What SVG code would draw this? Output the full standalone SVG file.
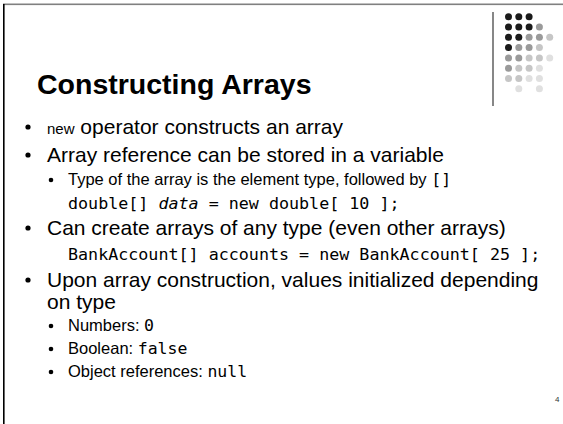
<svg xmlns="http://www.w3.org/2000/svg" width="563" height="424" viewBox="0 0 563 424">
  <style>
    .title { font-family: "Liberation Sans", Arial, sans-serif; font-weight: bold; font-size: 28.5px; fill: #000; }
    .l1 { font-family: "Liberation Sans", Arial, sans-serif; font-size: 21px; fill: #000; }
    .l2 { font-family: "Liberation Sans", Arial, sans-serif; font-size: 16.5px; fill: #000; }
    .code { font-family: "DejaVu Sans Mono", "Liberation Mono", monospace; font-size: 16.7px; fill: #000; }
    .kw { font-family: "Liberation Sans", Arial, sans-serif; font-size: 15px; }
    .mono { font-family: "DejaVu Sans Mono", "Liberation Mono", monospace; }
    .num { font-family: "Liberation Sans", Arial, sans-serif; font-size: 8px; fill: #333; }
    .d0 { fill: #1a1a1a; }
    .d1 { fill: #9a9a9a; }
    .d2 { fill: #c6c6c6; }
    .d3 { fill: #e0e0e0; }
  </style>
  <defs>
    <circle id="dot" r="3.5"/>
    <circle id="b1" r="2.6" fill="#000"/>
    <circle id="b2" r="2.3" fill="#000"/>
  </defs>

  <!-- slide frame -->
  <g id="frame">
    <rect x="3" y="3.5" width="560" height="1.6" fill="#808080"/>
    <rect x="3" y="4" width="1.6" height="420" fill="#000"/>
  </g>

  <!-- decorative dot grid with divider -->
  <g id="ornament">
    <rect x="492.3" y="12" width="1.4" height="94" fill="#555"/>
    <g transform="translate(508.5,16.7)">
      <use href="#dot" class="d0" x="0" y="0"/><use href="#dot" class="d0" x="10.3" y="0"/><use href="#dot" class="d0" x="20.6" y="0"/>
      <use href="#dot" class="d0" x="0" y="10.3"/><use href="#dot" class="d0" x="10.3" y="10.3"/><use href="#dot" class="d0" x="20.6" y="10.3"/><use href="#dot" class="d1" x="30.9" y="10.3"/>
      <use href="#dot" class="d0" x="0" y="20.6"/><use href="#dot" class="d0" x="10.3" y="20.6"/><use href="#dot" class="d1" x="20.6" y="20.6"/><use href="#dot" class="d1" x="30.9" y="20.6"/><use href="#dot" class="d2" x="41.2" y="20.6"/>
      <use href="#dot" class="d0" x="0" y="30.9"/><use href="#dot" class="d1" x="10.3" y="30.9"/><use href="#dot" class="d1" x="20.6" y="30.9"/><use href="#dot" class="d2" x="30.9" y="30.9"/>
      <use href="#dot" class="d1" x="0" y="41.2"/><use href="#dot" class="d1" x="10.3" y="41.2"/><use href="#dot" class="d2" x="20.6" y="41.2"/><use href="#dot" class="d2" x="30.9" y="41.2"/><use href="#dot" class="d3" x="41.2" y="41.2"/>
      <use href="#dot" class="d1" x="0" y="51.5"/><use href="#dot" class="d2" x="10.3" y="51.5"/><use href="#dot" class="d2" x="20.6" y="51.5"/><use href="#dot" class="d3" x="30.9" y="51.5"/>
      <use href="#dot" class="d2" x="0" y="61.8"/><use href="#dot" class="d2" x="10.3" y="61.8"/><use href="#dot" class="d3" x="20.6" y="61.8"/><use href="#dot" class="d3" x="30.9" y="61.8"/>
      <use href="#dot" class="d3" x="10.3" y="72.1"/><use href="#dot" class="d3" x="30.9" y="72.1"/>
    </g>
  </g>

  <g id="title">
    <text class="title" x="37" y="94">Constructing Arrays</text>
  </g>

  <g id="body">
    <use href="#b1" x="28" y="127"/>
    <text class="l1" x="47" y="134"><tspan class="kw">new</tspan> operator constructs an array</text>

    <use href="#b1" x="28" y="155"/>
    <text class="l1" x="47" y="162">Array reference can be stored in a variable</text>

    <use href="#b2" x="51" y="180"/>
    <text class="l2" x="68" y="185">Type of the array is the element type, followed by <tspan class="mono">[]</tspan></text>

    <text class="code" x="68" y="209">double[] <tspan font-style="italic">data</tspan> = new double[ 10 ];</text>

    <use href="#b1" x="28" y="228"/>
    <text class="l1" x="47" y="235">Can create arrays of any type (even other arrays)</text>

    <text class="code" x="68" y="260">BankAccount[] accounts = new BankAccount[ 25 ];</text>

    <use href="#b1" x="28" y="280"/>
    <text class="l1" x="47" y="287">Upon array construction, values initialized depending</text>
    <text class="l1" x="47" y="309">on type</text>

    <use href="#b2" x="51" y="326"/>
    <text class="l2" x="68" y="331">Numbers: <tspan class="mono">0</tspan></text>

    <use href="#b2" x="51" y="349"/>
    <text class="l2" x="68" y="354">Boolean: <tspan class="mono">false</tspan></text>

    <use href="#b2" x="51" y="372"/>
    <text class="l2" x="68" y="377">Object references: <tspan class="mono">null</tspan></text>

    <text class="num" x="555" y="402">4</text>
  </g>
</svg>
